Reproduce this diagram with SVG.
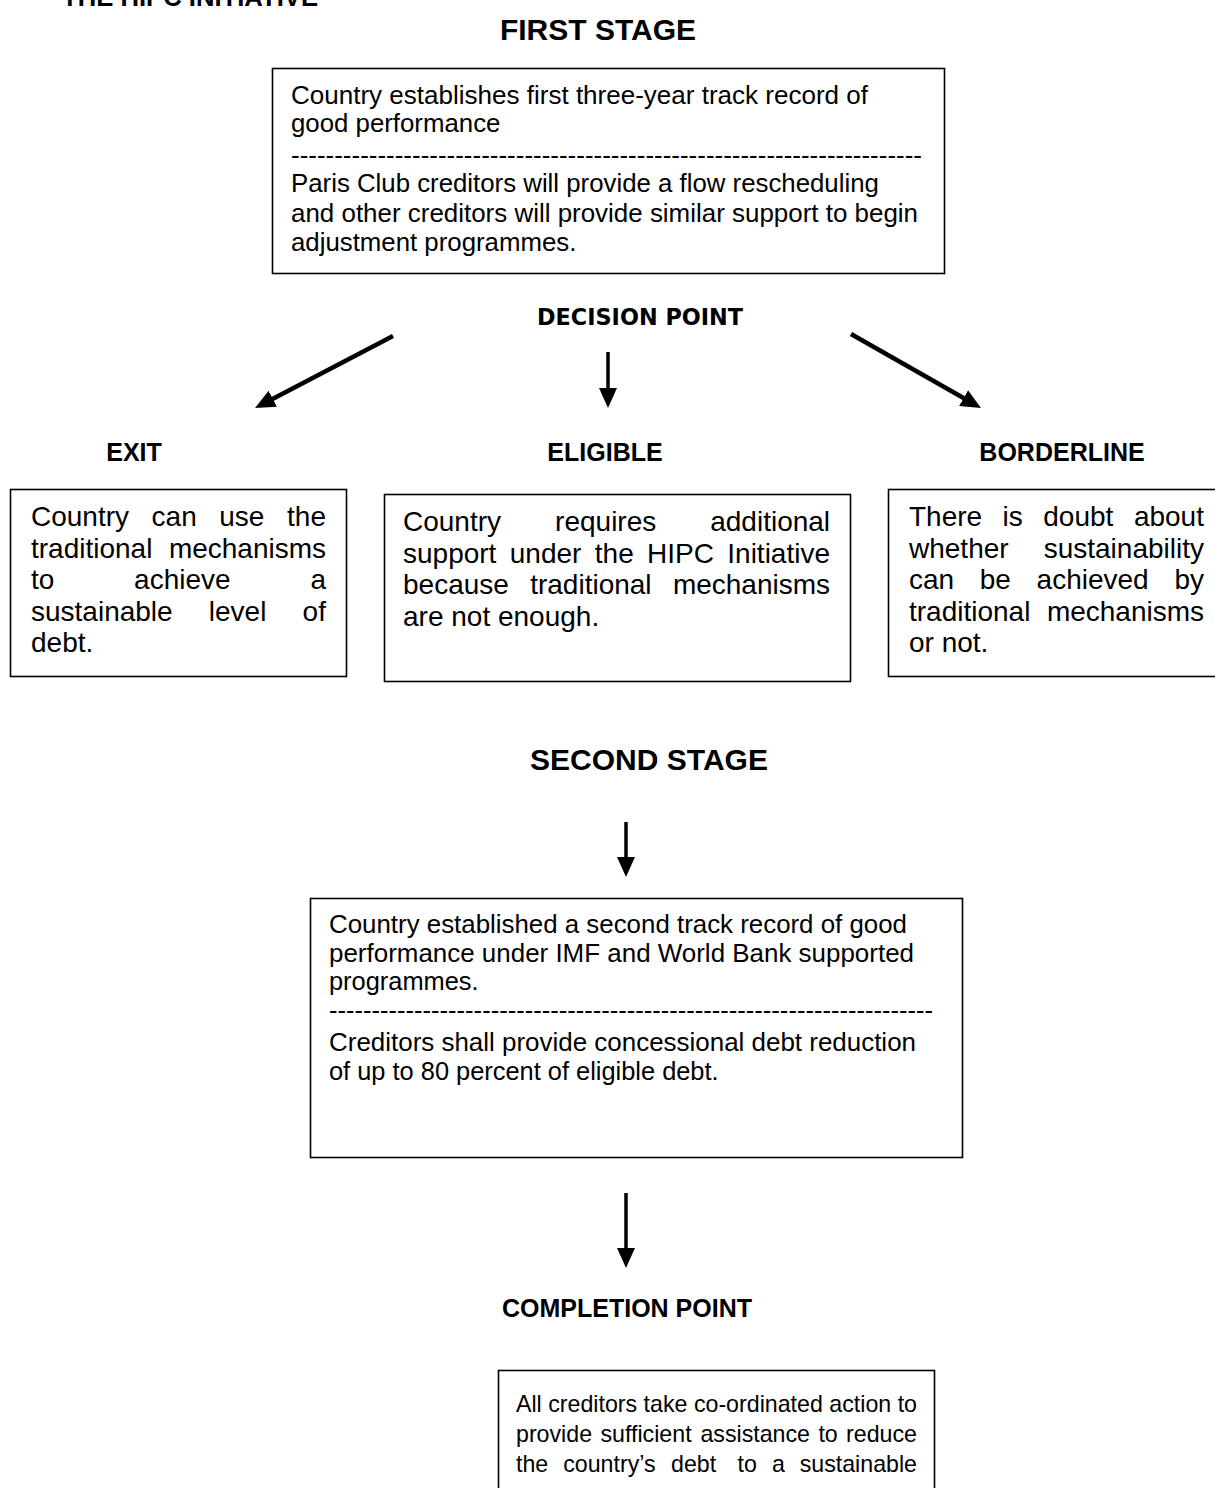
<svg xmlns="http://www.w3.org/2000/svg" width="1215" height="1488" viewBox="0 0 1215 1488">
<style>
text { font-family: "Liberation Sans", Arial, sans-serif; fill: #000; }
.h { font-weight: bold; }
.stage { font-weight: bold; font-size: 30px; text-anchor: middle; }
.lab { font-weight: bold; font-size: 25px; text-anchor: middle; }
.dp { font-family: "DejaVu Sans", Verdana, sans-serif; font-weight: bold; font-size: 23px; text-anchor: middle; }
.box { fill: #fff; stroke: #000; stroke-width: 1.6; }
.n1 { font-size: 25.8px; }
.n2 { font-size: 25.4px; }
.j { font-size: 28px; }
.j3 { font-size: 23.2px; }
.arr { stroke: #000; stroke-width: 4.5; fill: none; marker-end: url(#ah); }
.arrv { stroke: #000; stroke-width: 3.5; fill: none; marker-end: url(#ah); }
</style>
<defs>
<marker id="ah" markerUnits="userSpaceOnUse" markerWidth="20" markerHeight="18" refX="10" refY="9" orient="auto" viewBox="0 0 20 18">
<path d="M0,0 L20,9 L0,18 Z" fill="#000"/>
</marker>
</defs>
<rect x="0" y="0" width="1215" height="1488" fill="#fff"/>

<g id="title">
<text class="h" x="62" y="6" font-size="25.5" textLength="256" lengthAdjust="spacingAndGlyphs">THE HIPC INITIATIVE</text>
</g>

<g id="first-stage-heading">
<text class="stage" x="598" y="40">FIRST STAGE</text>
</g>

<g id="first-stage">
<rect class="box" x="272.5" y="68.5" width="672" height="205"/>
<text class="n1" x="291" y="104" textLength="577" lengthAdjust="spacingAndGlyphs">Country establishes first three-year track record of</text>
<text class="n1" x="291" y="132">good performance</text>
<text class="n1" x="291" y="164" textLength="631" lengthAdjust="spacingAndGlyphs">-------------------------------------------------------------------------</text>
<text class="n1" x="291" y="192">Paris Club creditors will provide a flow rescheduling</text>
<text class="n1" x="291" y="222" textLength="627" lengthAdjust="spacingAndGlyphs">and other creditors will provide similar support to begin</text>
<text class="n1" x="291" y="251">adjustment programmes.</text>
</g>

<g id="decision-point">
<text class="dp" x="640" y="325" textLength="206" lengthAdjust="spacingAndGlyphs">DECISION POINT</text>
</g>

<g id="connectors">
<line class="arr" x1="393" y1="336" x2="263.9" y2="403.4"/>
<line class="arrv" x1="608" y1="352" x2="608" y2="398"/>
<line class="arr" x1="851" y1="334" x2="972.3" y2="403"/>
<line class="arrv" x1="626" y1="822" x2="626" y2="867"/>
<line class="arrv" x1="626" y1="1193" x2="626" y2="1258"/>
</g>

<g id="exit">
<text class="lab" x="134" y="461">EXIT</text>
<rect class="box" x="10.5" y="489.5" width="336" height="187"/>
<text class="j" y="526"><tspan x="31">Country</tspan><tspan x="151.6">can</tspan><tspan x="219.3">use</tspan><tspan x="287.1">the</tspan></text>
<text class="j" y="557.5"><tspan x="31">traditional</tspan><tspan x="168.9">mechanisms</tspan></text>
<text class="j" y="589"><tspan x="31">to</tspan><tspan x="134.1">achieve</tspan><tspan x="310.4">a</tspan></text>
<text class="j" y="620.5"><tspan x="31">sustainable</tspan><tspan x="208.8">level</tspan><tspan x="302.6">of</tspan></text>
<text class="j" x="31" y="652">debt.</text>
</g>

<g id="eligible">
<text class="lab" x="605" y="461">ELIGIBLE</text>
<rect class="box" x="384.5" y="494.5" width="466" height="187"/>
<text class="j" y="531"><tspan x="403">Country</tspan><tspan x="555.1">requires</tspan><tspan x="710.2">additional</tspan></text>
<text class="j" y="562.5"><tspan x="403">support</tspan><tspan x="509.8">under</tspan><tspan x="594.8">the</tspan><tspan x="647.1">HIPC</tspan><tspan x="727.3">Initiative</tspan></text>
<text class="j" y="594"><tspan x="403">because</tspan><tspan x="530.2">traditional</tspan><tspan x="672.9">mechanisms</tspan></text>
<text class="j" x="403" y="625.5">are not enough.</text>
</g>

<g id="borderline">
<text class="lab" x="1062" y="461">BORDERLINE</text>
<rect class="box" x="888.5" y="489.5" width="330" height="187"/>
<text class="j" y="526"><tspan x="909">There</tspan><tspan x="1002.6">is</tspan><tspan x="1043.3">doubt</tspan><tspan x="1133.9">about</tspan></text>
<text class="j" y="557.5"><tspan x="909">whether</tspan><tspan x="1043.7">sustainability</tspan></text>
<text class="j" y="589"><tspan x="909">can</tspan><tspan x="979.8">be</tspan><tspan x="1036.6">achieved</tspan><tspan x="1174.4">by</tspan></text>
<text class="j" y="620.5"><tspan x="909">traditional</tspan><tspan x="1046.9">mechanisms</tspan></text>
<text class="j" x="909" y="652">or not.</text>
</g>

<g id="second-stage-heading">
<text class="stage" x="649" y="770">SECOND STAGE</text>
</g>

<g id="second-stage">
<rect class="box" x="310.5" y="898.5" width="652" height="259"/>
<text class="n2" x="329" y="933" textLength="578" lengthAdjust="spacingAndGlyphs">Country established a second track record of good</text>
<text class="n2" x="329" y="962" textLength="585" lengthAdjust="spacingAndGlyphs">performance under IMF and World Bank supported</text>
<text class="n2" x="329" y="990">programmes.</text>
<text class="n2" x="329" y="1019" textLength="604" lengthAdjust="spacingAndGlyphs">-----------------------------------------------------------------------</text>
<text class="n2" x="329" y="1051" textLength="587" lengthAdjust="spacingAndGlyphs">Creditors shall provide concessional debt reduction</text>
<text class="n2" x="329" y="1080">of up to 80 percent of eligible debt.</text>
</g>

<g id="completion-point-heading">
<text class="lab" x="627" y="1317">COMPLETION POINT</text>
</g>

<g id="completion-point">
<rect class="box" x="498.5" y="1370.5" width="436" height="140"/>
<text class="j3" x="516" y="1412" textLength="401" lengthAdjust="spacing">All creditors take co-ordinated action to</text>
<text class="j3" y="1442"><tspan x="516">provide</tspan><tspan x="600.5">sufficient</tspan><tspan x="700.4">assistance</tspan><tspan x="818.4">to</tspan><tspan x="846.1">reduce</tspan></text>
<text class="j3" y="1472"><tspan x="516">the</tspan><tspan x="563.2">country’s</tspan><tspan x="671">debt</tspan><tspan x="737.6">to</tspan><tspan x="771.9">a</tspan><tspan x="799.7">sustainable</tspan></text>
</g>
</svg>
